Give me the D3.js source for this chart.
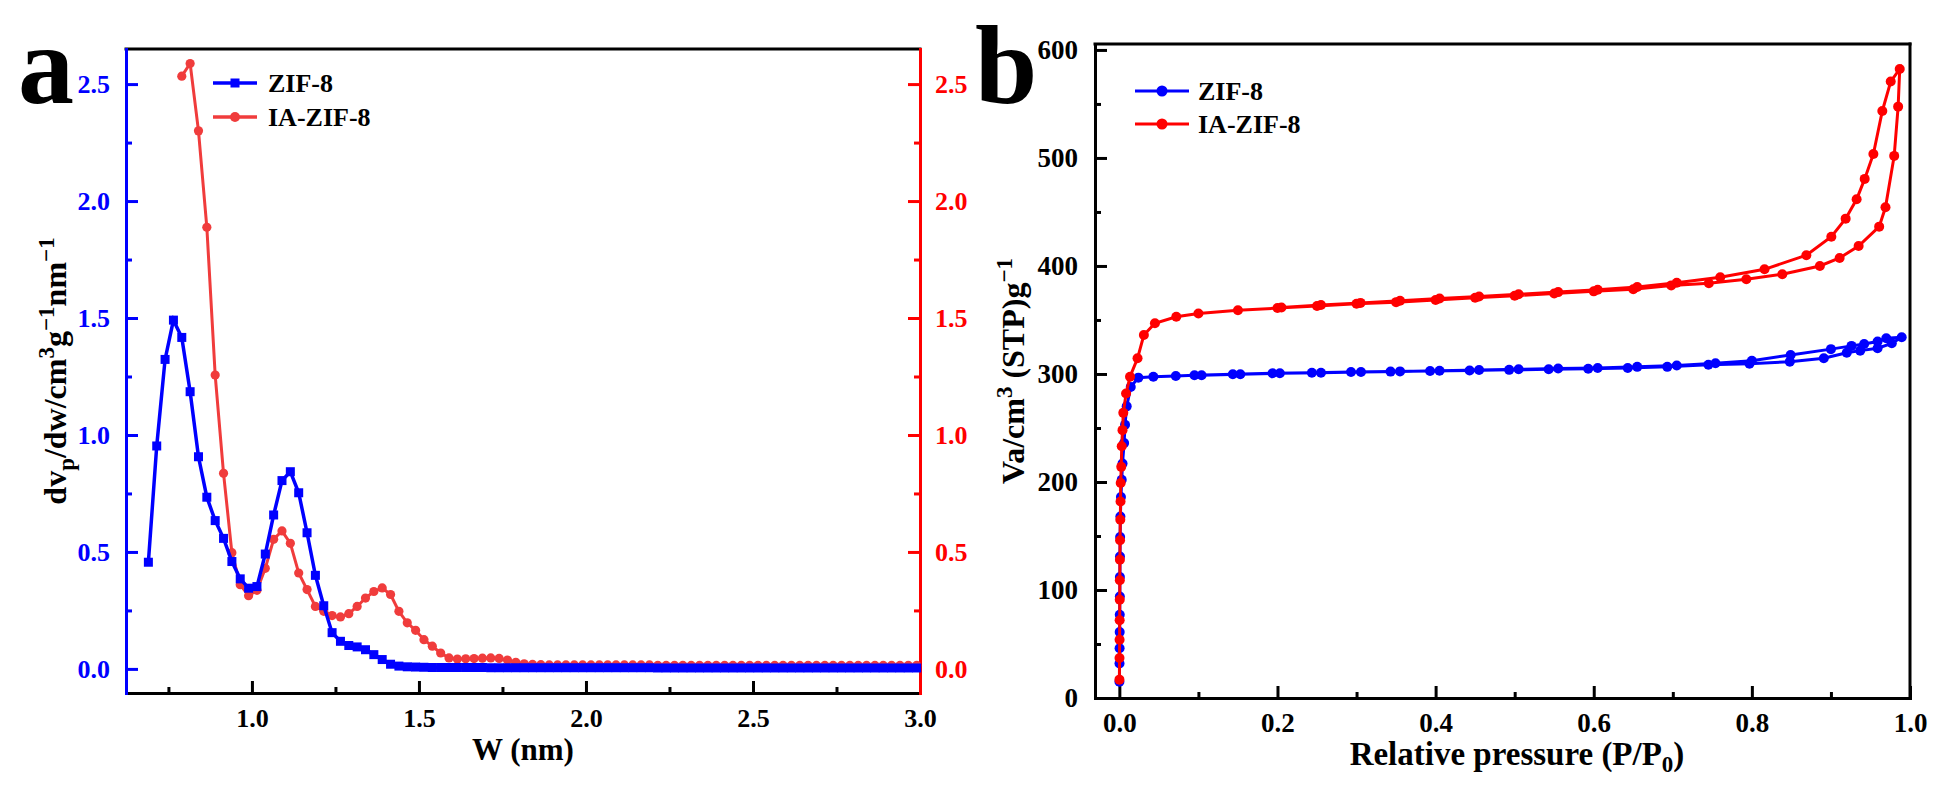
<!DOCTYPE html>
<html>
<head>
<meta charset="utf-8">
<script src="https://cdn.jsdelivr.net/npm/d3@7"></script>
<style>
  html, body { margin: 0; padding: 0; background: #fff; }
  svg { display: block; }
  text { font-family: "Liberation Serif", "Times New Roman", serif; font-weight: bold; }
</style>
</head>
<body>
<svg id="chart" width="1949" height="799"></svg>
<script>
// ---------------- Panel a data: pore size distribution ----------------
const poreWidth = [
  0.690,0.715,0.740,0.765,0.790,0.815,0.840,0.865,0.890,0.915,
  0.940,0.965,0.990,1.015,1.040,1.065,1.090,1.115,1.140,1.165,
  1.190,1.215,1.240,1.265,1.290,1.315,1.340,1.365,1.390,1.415,
  1.440,1.465,1.490,1.515,1.540,1.565,1.590,1.615,1.640,1.665,
  1.690,1.715,1.740,1.765,1.790,1.815,1.840,1.865,1.890,1.915,
  1.940,1.965,1.990,2.015,2.040,2.065,2.090,2.115,2.140,2.165,
  2.190,2.215,2.240,2.265,2.290,2.315,2.340,2.365,2.390,2.415,
  2.440,2.465,2.490,2.515,2.540,2.565,2.590,2.615,2.640,2.665,
  2.690,2.715,2.740,2.765,2.790,2.815,2.840,2.865,2.890,2.915,
  2.940,2.965,2.990
];
const psdZIF8 = [
  0.456,0.953,1.323,1.491,1.417,1.185,0.907,0.734,0.634,0.558,
  0.459,0.385,0.345,0.352,0.491,0.658,0.805,0.843,0.753,0.582,
  0.400,0.270,0.155,0.118,0.100,0.094,0.082,0.061,0.040,0.020,
  0.012,0.009,0.008,0.007,0.006,0.006,0.006,0.006,0.006,0.006,
  0.006,0.005,0.005,0.005,0.005,0.005,0.005,0.005,0.005,0.005,
  0.005,0.005,0.005,0.005,0.005,0.005,0.005,0.005,0.005,0.005,
  0.005,0.004,0.004,0.004,0.004,0.004,0.004,0.004,0.004,0.004,
  0.004,0.004,0.004,0.004,0.004,0.004,0.004,0.004,0.004,0.004,
  0.004,0.004,0.004,0.004,0.004,0.004,0.004,0.004,0.004,0.004,
  0.004,0.004,0.004
];
const psdIAZIF8 = [
  null,null,null,null,2.534,2.588,2.300,1.888,1.256,0.836,
  0.497,0.360,0.313,0.336,0.430,0.554,0.590,0.537,0.410,0.339,
  0.267,0.246,0.228,0.222,0.236,0.267,0.303,0.331,0.346,0.318,
  0.246,0.197,0.165,0.125,0.097,0.068,0.047,0.042,0.043,0.044,
  0.046,0.047,0.045,0.038,0.028,0.022,0.019,0.018,0.017,0.017,
  0.017,0.017,0.017,0.017,0.017,0.017,0.017,0.017,0.017,0.017,
  0.017,0.015,0.015,0.015,0.015,0.015,0.015,0.015,0.015,0.015,
  0.015,0.015,0.015,0.015,0.015,0.015,0.015,0.015,0.015,0.015,
  0.015,0.015,0.015,0.015,0.015,0.015,0.015,0.015,0.015,0.015,
  0.015,0.015,0.015
];
const aXTicks = [1.0, 1.5, 2.0, 2.5, 3.0];
const aXMinor = [0.75, 1.25, 1.75, 2.25, 2.75];
const aYTicks = [0.0, 0.5, 1.0, 1.5, 2.0, 2.5];
const aYMinor = [0.25, 0.75, 1.25, 1.75, 2.25];

// ---------------- Panel b data: N2 isotherms ----------------
const isoZIF8P = [
  0.0001,0.0002,0.0003,0.0004,0.0005,0.0006,0.0007,0.0008,0.0010,0.0013,
  0.0020,0.0030,0.0040,0.0060,0.0072,0.0093,0.0144,0.024,0.043,0.0714,
  0.095,0.1435,0.1937,0.2435,0.293,0.343,0.393,0.443,0.493,0.543,
  0.593,0.643,0.693,0.745,0.797,0.848,0.891,0.920,0.937,0.959,
  0.977,0.9895,
  0.970,0.959,0.942,0.926,0.900,0.849,0.800,0.754,0.705,0.655,
  0.605,0.555,0.505,0.455,0.405,0.355,0.3056,0.255,0.203,0.153,0.104
];
const isoZIF8V = [
  15,32,46,61,77,94,112,131,149,168,
  186,202,217,236,253,270,288,296.6,297.5,298.1,
  298.8,299.7,300.6,301.2,301.8,302.2,302.7,303.2,303.8,304.3,
  304.8,305.6,306.6,308.5,309.5,311.4,314.5,319.7,321.6,323.8,
  328.4,334,
  333,330,327.8,326,323,317.6,312.3,310,307.8,306.6,
  305.6,305,304.3,303.6,303,302.4,301.8,301.2,300.6,299.7,298.8
];
const isoIAP = [
  0.0001,0.0002,0.0003,0.0004,0.0005,0.0006,0.0007,0.0009,0.0012,0.0015,
  0.0017,0.0024,0.0030,0.0040,0.0050,0.0085,0.0135,0.023,0.031,0.045,
  0.072,0.10,0.15,0.20,0.25,0.30,0.35,0.40,0.45,0.50,
  0.55,0.60,0.65,0.698,0.7456,0.793,0.8385,0.886,0.911,0.935,
  0.961,0.969,0.980,0.985,0.987,
  0.9756,0.965,0.9537,0.9427,0.9325,0.9186,0.9005,0.8689,0.816,0.760,
  0.705,0.655,0.605,0.555,0.505,0.455,0.405,0.355,0.305,0.255,0.205
];
const isoIAV = [
  17,37,54,72,91,109,128,146,165,182,
  199,214,233,248,264,282,297.5,314.5,336,347,
  353,356,359,361,363,365,366.5,368.5,370.5,372.5,
  374.5,376.5,378.5,382,384,387.7,392.3,400,407.4,418.5,
  436.4,454.3,501.9,547.5,582.4,
  570.7,543.5,503.7,480.6,461.7,443.8,427.1,409.9,396.9,389.5,
  384.5,380.5,378,375.8,373.8,371.8,369.8,367.8,365.8,363.8,361.5
];
const bXTicks = [0.0, 0.2, 0.4, 0.6, 0.8, 1.0];
const bXMinor = [0.1, 0.3, 0.5, 0.7, 0.9];
const bYTicks = [0, 100, 200, 300, 400, 500, 600];
const bYMinor = [50, 150, 250, 350, 450, 550];

const seriesNames = ["ZIF-8", "IA-ZIF-8"];

// ---------------- drawing ----------------
const BLUE = "#0000ff", RED = "#ff0000", RED_A = "#f03c3c";
const svg = d3.select("#chart");
svg.append("rect").attr("width", 1949).attr("height", 799).attr("fill", "#fff");

function styleAxis(g, color, fs) {
  g.selectAll("path.domain").attr("stroke", color).attr("stroke-width", 3).attr("stroke-linecap", "square");
  g.selectAll(".tick line").attr("stroke", color).attr("stroke-width", 3);
  g.selectAll(".tick text").attr("fill", color).attr("font-size", fs)
    .style("font-family", '"Liberation Serif", serif').style("font-weight", "bold");
}

// ===== Panel a =====
const xA = d3.scaleLinear().domain([0.623, 3.0]).range([126, 920]);
const yA = d3.scaleLinear().domain([-0.103, 2.65]).range([693, 49]);
const fA = d3.format(".1f");

svg.append("line").attr("x1", 126).attr("x2", 920).attr("y1", 49).attr("y2", 49)
  .attr("stroke", "#000").attr("stroke-width", 3).attr("stroke-linecap", "square");

const gAx = svg.append("g").attr("transform", "translate(0,693)")
  .call(d3.axisBottom(xA).tickValues(aXTicks).tickFormat(fA).tickSizeInner(-12).tickSizeOuter(0).tickPadding(16));
styleAxis(gAx, "#000", 26);
const gAxm = svg.append("g").attr("transform", "translate(0,693)")
  .call(d3.axisBottom(xA).tickValues(aXMinor).tickFormat("").tickSizeInner(-6).tickSizeOuter(0));
styleAxis(gAxm, "#000", 26);

const gAy = svg.append("g").attr("transform", "translate(126,0)")
  .call(d3.axisLeft(yA).tickValues(aYTicks).tickFormat(fA).tickSizeInner(-12).tickSizeOuter(0).tickPadding(16));
styleAxis(gAy, BLUE, 26);
const gAym = svg.append("g").attr("transform", "translate(126,0)")
  .call(d3.axisLeft(yA).tickValues(aYMinor).tickFormat("").tickSizeInner(-6).tickSizeOuter(0));
styleAxis(gAym, BLUE, 26);

const gAr = svg.append("g").attr("transform", "translate(920,0)")
  .call(d3.axisRight(yA).tickValues(aYTicks).tickFormat(fA).tickSizeInner(-12).tickSizeOuter(0).tickPadding(15));
styleAxis(gAr, RED, 26);
const gArm = svg.append("g").attr("transform", "translate(920,0)")
  .call(d3.axisRight(yA).tickValues(aYMinor).tickFormat("").tickSizeInner(-6).tickSizeOuter(0));
styleAxis(gArm, RED, 26);

const ptsZ = poreWidth.map((w, i) => [w, psdZIF8[i]]);
const ptsI = poreWidth.map((w, i) => [w, psdIAZIF8[i]]).filter(d => d[1] !== null);
const lineA = d3.line().x(d => xA(d[0])).y(d => yA(d[1]));

svg.append("path").attr("d", lineA(ptsI)).attr("fill", "none").attr("stroke", RED_A).attr("stroke-width", 3);
svg.append("g").selectAll("circle").data(ptsI).join("circle")
  .attr("cx", d => xA(d[0])).attr("cy", d => yA(d[1])).attr("r", 4.6).attr("fill", RED_A);

svg.append("path").attr("d", lineA(ptsZ)).attr("fill", "none").attr("stroke", BLUE).attr("stroke-width", 3.5);
svg.append("g").selectAll("rect").data(ptsZ).join("rect")
  .attr("x", d => xA(d[0]) - 4.5).attr("y", d => yA(d[1]) - 4.5).attr("width", 9).attr("height", 9).attr("fill", BLUE);

// legend a
const legA = svg.append("g");
[[83, BLUE, "square"], [117, RED_A, "circle"]].forEach((L, k) => {
  legA.append("line").attr("x1", 213).attr("x2", 257).attr("y1", L[0]).attr("y2", L[0])
    .attr("stroke", L[1]).attr("stroke-width", 3.5);
  if (L[2] === "square") legA.append("rect").attr("x", 230.5).attr("y", L[0] - 4.5).attr("width", 9).attr("height", 9).attr("fill", L[1]);
  else legA.append("circle").attr("cx", 235).attr("cy", L[0]).attr("r", 5).attr("fill", L[1]);
  legA.append("text").attr("x", 268).attr("y", L[0]).attr("dy", "0.35em").attr("font-size", 26).attr("fill", "#000")
    .text(seriesNames[k]);
});

// titles a
svg.append("text").attr("x", 18).attr("y", 103).attr("font-size", 112).attr("fill", "#000").text("a");
svg.append("text").attr("x", 523).attr("y", 760).attr("text-anchor", "middle").attr("font-size", 31).attr("fill", "#000").text("W (nm)");
const tya = svg.append("text").attr("transform", "translate(66,371) rotate(-90)").attr("text-anchor", "middle")
  .attr("font-size", 32).attr("fill", "#000");
tya.append("tspan").text("dv");
tya.append("tspan").attr("dy", 8).attr("font-size", 23).text("p");
tya.append("tspan").attr("dy", -8).text("/dw/cm");
tya.append("tspan").attr("dy", -12).attr("font-size", 23).text("3");
tya.append("tspan").attr("dy", 12).text("g");
tya.append("tspan").attr("dy", -12).attr("font-size", 23).text("\u22121");
tya.append("tspan").attr("dy", 12).text("nm");
tya.append("tspan").attr("dy", -12).attr("font-size", 23).text("\u22121");

// ===== Panel b =====
const xB = d3.scaleLinear().domain([-0.0308, 1.0]).range([1095, 1910]);
const yB = d3.scaleLinear().domain([0, 605.5]).range([698, 44]);

svg.append("line").attr("x1", 1095).attr("x2", 1910).attr("y1", 44).attr("y2", 44)
  .attr("stroke", "#000").attr("stroke-width", 3).attr("stroke-linecap", "square");
svg.append("line").attr("x1", 1910).attr("x2", 1910).attr("y1", 44).attr("y2", 698)
  .attr("stroke", "#000").attr("stroke-width", 3).attr("stroke-linecap", "square");

const gBx = svg.append("g").attr("transform", "translate(0,698)")
  .call(d3.axisBottom(xB).tickValues(bXTicks).tickFormat(d3.format(".1f")).tickSizeInner(-12).tickSizeOuter(0).tickPadding(15));
styleAxis(gBx, "#000", 27);
const gBxm = svg.append("g").attr("transform", "translate(0,698)")
  .call(d3.axisBottom(xB).tickValues(bXMinor).tickFormat("").tickSizeInner(-6).tickSizeOuter(0));
styleAxis(gBxm, "#000", 27);
const gBy = svg.append("g").attr("transform", "translate(1095,0)")
  .call(d3.axisLeft(yB).tickValues(bYTicks).tickFormat(d3.format("d")).tickSizeInner(-12).tickSizeOuter(0).tickPadding(17));
styleAxis(gBy, "#000", 27);
const gBym = svg.append("g").attr("transform", "translate(1095,0)")
  .call(d3.axisLeft(yB).tickValues(bYMinor).tickFormat("").tickSizeInner(-6).tickSizeOuter(0));
styleAxis(gBym, "#000", 27);

const lineB = d3.line().x(d => xB(d[0])).y(d => yB(d[1]));
const isoZ = isoZIF8P.map((p, i) => [p, isoZIF8V[i]]);
const isoI = isoIAP.map((p, i) => [p, isoIAV[i]]);

svg.append("path").attr("d", lineB(isoZ)).attr("fill", "none").attr("stroke", BLUE).attr("stroke-width", 3);
svg.append("g").selectAll("circle").data(isoZ).join("circle")
  .attr("cx", d => xB(d[0])).attr("cy", d => yB(d[1])).attr("r", 5).attr("fill", BLUE);
svg.append("path").attr("d", lineB(isoI)).attr("fill", "none").attr("stroke", RED).attr("stroke-width", 3);
svg.append("g").selectAll("circle").data(isoI).join("circle")
  .attr("cx", d => xB(d[0])).attr("cy", d => yB(d[1])).attr("r", 5).attr("fill", RED);

// legend b
const legB = svg.append("g");
[[91, BLUE], [124, RED]].forEach((L, k) => {
  legB.append("line").attr("x1", 1135).attr("x2", 1189).attr("y1", L[0]).attr("y2", L[0])
    .attr("stroke", L[1]).attr("stroke-width", 3);
  legB.append("circle").attr("cx", 1162).attr("cy", L[0]).attr("r", 5.5).attr("fill", L[1]);
  legB.append("text").attr("x", 1198).attr("y", L[0]).attr("dy", "0.35em").attr("font-size", 26).attr("fill", "#000")
    .text(seriesNames[k]);
});

svg.append("text").attr("x", 975).attr("y", 103).attr("font-size", 112).attr("fill", "#000").text("b");
const txb = svg.append("text").attr("x", 1517).attr("y", 765).attr("text-anchor", "middle").attr("font-size", 33).attr("fill", "#000");
txb.append("tspan").text("Relative pressure (P/P");
txb.append("tspan").attr("dy", 7).attr("font-size", 23).text("0");
txb.append("tspan").attr("dy", -7).text(")");
const tyb = svg.append("text").attr("transform", "translate(1024,371) rotate(-90)").attr("text-anchor", "middle")
  .attr("font-size", 32).attr("fill", "#000");
tyb.append("tspan").text("Va/cm");
tyb.append("tspan").attr("dy", -12).attr("font-size", 23).text("3");
tyb.append("tspan").attr("dy", 12).text(" (STP)g");
tyb.append("tspan").attr("dy", -12).attr("font-size", 23).text("\u22121");
</script>
</body>
</html>
